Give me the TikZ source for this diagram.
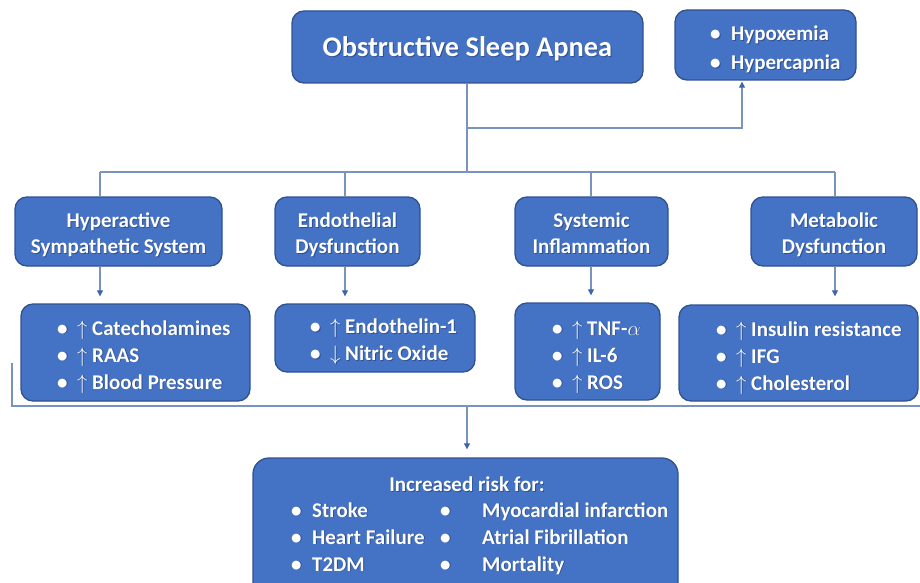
\documentclass[tikz,border=0pt]{standalone}
\usepackage{fontspec}
\setmainfont{Carlito}
\usetikzlibrary{arrows.meta}
\definecolor{boxfill}{HTML}{4472C4}
\definecolor{boxline}{HTML}{2F528F}
\definecolor{connc}{HTML}{7A93BD}
\definecolor{tipc}{HTML}{3E64AE}
\definecolor{shc}{HTML}{1F3366}
\newcommand\bl{\strut\makebox[20pt][l]{•}}
\newcommand\blw{\strut\makebox[42pt][l]{•}}
\newcommand\hb{\strut\makebox[21pt][l]{•}}
\newcommand\upa{\makebox[15pt][l]{$\uparrow$}}
\newcommand\dna{\makebox[15pt][l]{$\downarrow$}}
% shadowed text node: #1 options, #2 name, #3 position, #4 text
\newcommand\stxt[4]{%
  \node[#1, text=shc, text opacity=0.55, xshift=0.9pt, yshift=-0.9pt] at (#3) {#4};
  \node[#1] (#2) at (#3) {#4};}
\tikzset{
  box/.style={draw=boxline, line width=1.3pt, fill=boxfill, rounded corners=12pt, inner sep=0pt},
  txt/.style={text=white, font=\bfseries\fontsize{21}{25.5}\selectfont, align=center, inner sep=0pt},
  lst/.style={text=white, font=\bfseries\fontsize{21}{27}\selectfont, align=left, inner sep=0pt, anchor=west},
  conn/.style={draw=connc, line width=1.1pt},
  arr/.style={conn, -{Triangle[width=6pt,length=6pt,color=tipc]}},
}
\begin{document}
\begin{tikzpicture}[x=1pt,y=-1pt]
\path[use as bounding box] (0,0) rectangle (920,583);
\clip (0,0) rectangle (920,583);
% boxes
\node[box, minimum width=351, minimum height=72] (osa) at (467.5,47) {};
\node[box, minimum width=181, minimum height=70] (hyp) at (765.5,45) {};
\node[box, minimum width=207, minimum height=69] (h1) at (118.5,231.5) {};
\node[box, minimum width=145, minimum height=69] (h2) at (347.5,231.5) {};
\node[box, minimum width=153, minimum height=69] (h3) at (591.5,231.5) {};
\node[box, minimum width=166, minimum height=69] (h4) at (834,231.5) {};
\node[box, minimum width=229, minimum height=97] (l1) at (135.5,352.5) {};
\node[box, minimum width=200, minimum height=68] (l2) at (375,338) {};
\node[box, minimum width=145, minimum height=97] (l3) at (587.5,351.5) {};
\node[box, minimum width=239, minimum height=96] (l4) at (798.5,353) {};
\node[box, minimum width=425, minimum height=152, rounded corners=16pt] (risk) at (465.5,534) {};
% texts
\stxt{txt, font=\bfseries\fontsize{28.4}{32}\selectfont}{osat}{467.5,50}{\strut Obstructive Sleep Apnea}
\stxt{lst, font=\bfseries\fontsize{21}{29}\selectfont}{hypt}{710,49}{\hb Hypoxemia\\ \hb Hypercapnia}
\stxt{txt}{h1t}{118.5,235.6}{\strut Hyperactive\\ \strut Sympathetic System}
\stxt{txt}{h2t}{347.5,235.6}{\strut Endothelial\\ \strut Dysfunction}
\stxt{txt}{h3t}{591.5,235.6}{\strut Systemic\\ \strut Inflammation}
\stxt{txt}{h4t}{834,235.6}{\strut Metabolic\\ \strut Dysfunction}
\stxt{lst}{l1t}{57,356.6}{\bl\upa Catecholamines\\ \bl\upa RAAS\\ \bl\upa Blood Pressure}
\stxt{lst}{l2t}{310,342}{\bl\upa Endothelin-1\\ \bl\dna Nitric Oxide}
\stxt{lst}{l3t}{552,356.6}{\bl\upa TNF-$\alpha$\\ \bl\upa IL-6\\ \bl\upa ROS}
\stxt{lst}{l4t}{716,357.6}{\bl\upa Insulin resistance\\ \bl\upa IFG\\ \bl\upa Cholesterol}
\stxt{txt}{riskt}{467,486}{\strut Increased risk for:}
\stxt{lst}{riska}{291,538.6}{\hb Stroke\\ \hb Heart Failure\\ \hb T2DM}
\stxt{lst}{riskb}{440,538.6}{\blw Myocardial infarction\\ \blw Atrial Fibrillation\\ \blw Mortality}
% connectors
\coordinate (j1) at (467,128);
\coordinate (j2) at (467,172);
\coordinate (b1) at (100,172);
\coordinate (b2) at (345,172);
\coordinate (b3) at (591,172);
\coordinate (b4) at (835,172);
\coordinate (c0) at (12,363);
\coordinate (c1) at (12,406);
\coordinate (c2) at (920,406);
\coordinate (c3) at (467,406);
\draw[conn] (osa.south -| j1) -- (j2);
\draw[arr, shorten >=1pt] (j1) -| (742,0 |- hyp.south);
\draw[conn] (b1) -- (b4);
\draw[conn] (b1) -- (b1 |- h1.north);
\draw[conn] (b2) -- (b2 |- h2.north);
\draw[conn] (b3) -- (b3 |- h3.north);
\draw[conn] (b4) -- (b4 |- h4.north);
\draw[arr, shorten >=7pt] (b1 |- h1.south) -- (b1 |- l1.north);
\draw[arr, shorten >=7pt] (b2 |- h2.south) -- (b2 |- l2.north);
\draw[arr, shorten >=7pt] (b3 |- h3.south) -- (b3 |- l3.north);
\draw[arr, shorten >=8pt] (b4 |- h4.south) -- (b4 |- l4.north);
\draw[conn] (c0) -- (c1) -- (c2);
\draw[arr, shorten >=8pt] (c3) -- (c3 |- risk.north);
\end{tikzpicture}
\end{document}
